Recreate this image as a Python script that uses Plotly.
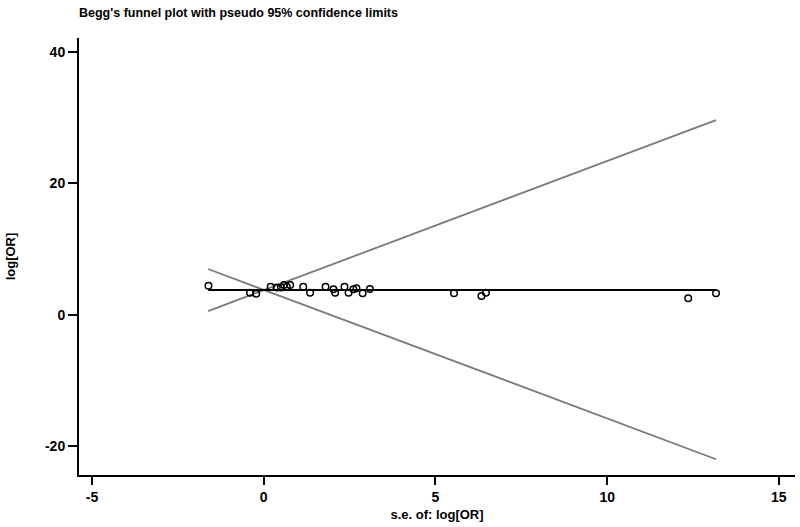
import plotly.graph_objects as go

# study points
se = [-1.61, -0.40, -0.22, 0.20, 0.38, 0.50, 0.59, 0.67, 0.77, 1.15, 1.35,
      1.80, 2.03, 2.08, 2.35, 2.47, 2.61, 2.70, 2.88, 3.09, 5.54, 6.34,
      6.47, 12.36, 13.17]
log_or = [4.40, 3.33, 3.20, 4.25, 4.15, 4.15, 4.50, 4.25, 4.50, 4.25, 3.33,
          4.25, 3.85, 3.33, 4.25, 3.33, 3.85, 4.00, 3.24, 3.90, 3.24, 2.83,
          3.33, 2.48, 3.27]

# pooled estimate and pseudo 95% limits (end points)
line_se = [-1.62, 13.17]
pooled = [3.75, 3.75]
upper = [0.55, 29.6]
lower = [6.95, -22.0]

x_ticks = [-5, 0, 5, 10, 15]
x_text = ['<b>-5</b>', '<b>0</b>', '<b>5</b>', '<b>10</b>', '<b>15</b>']
y_ticks = [-20, 0, 20, 40]
y_text = ['<b>-20</b>', '<b>0</b>', '<b>20</b>', '<b>40</b>']

fig = go.Figure()

fig.add_trace(go.Scatter(x=line_se, y=upper, mode='lines',
                         line=dict(color='#7a7a7a', width=1.8)))
fig.add_trace(go.Scatter(x=line_se, y=lower, mode='lines',
                         line=dict(color='#7a7a7a', width=1.8)))
fig.add_trace(go.Scatter(x=line_se, y=pooled, mode='lines',
                         line=dict(color='black', width=1.8)))
fig.add_trace(go.Scatter(x=se, y=log_or, mode='markers',
                         marker=dict(symbol='circle-open', size=6.5, color='black',
                                     line=dict(width=1.5, color='black'))))

fig.update_layout(
    width=800, height=527,
    margin=dict(l=79, r=5, t=38, b=52),
    plot_bgcolor='white', paper_bgcolor='white',
    showlegend=False,
    font=dict(family='Liberation Sans, Arial, sans-serif', color='black'),
    title=dict(text="<b>Begg's funnel plot with pseudo 95% confidence limits</b>",
               x=79 / 800, xanchor='left', y=1 - 13 / 527, yanchor='middle',
               font=dict(size=12.5)),
)

fig.update_xaxes(
    range=[-5.38, 15.47], tickvals=x_ticks, ticktext=x_text,
    showline=True, linecolor='black', linewidth=2, showgrid=False, zeroline=False,
    ticks='outside', ticklen=8, tickwidth=1.5, tickcolor='black',
    tickfont=dict(size=14),
    title=dict(text='<b>s.e. of: log[OR]</b>', font=dict(size=13), standoff=6),
)
fig.update_yaxes(
    range=[-24.4, 42.1], tickvals=y_ticks, ticktext=y_text,
    showline=True, linecolor='black', linewidth=2, showgrid=False, zeroline=False,
    ticks='outside', ticklen=9, tickwidth=1.5, tickcolor='black',
    tickfont=dict(size=14),
    title=dict(text='<b>log[OR]</b>', font=dict(size=13), standoff=26),
)

# drop the default body margin so the figure sits at the page corner
fig.write_html("out.html", config={'displayModeBar': False},
               post_script="document.body.style.margin='0';")
